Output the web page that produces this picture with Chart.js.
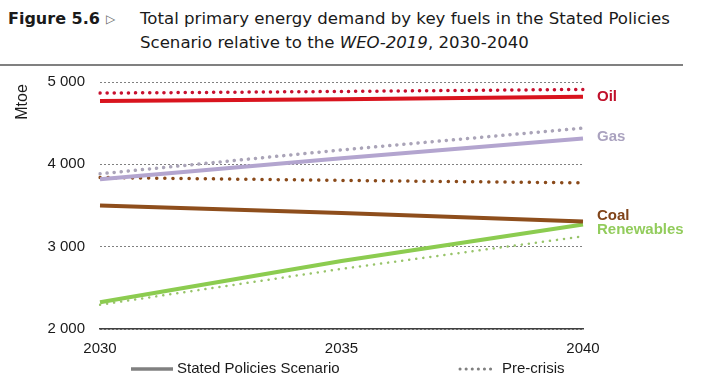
<!DOCTYPE html>
<html>
<head>
<meta charset="utf-8">
<script src="https://cdn.jsdelivr.net/npm/chart.js@4"></script>
<style>
  html, body { margin: 0; padding: 0; background: #fff; }
  #wrap { position: relative; width: 704px; height: 389px; overflow: hidden; }
  #title { position: absolute; left: 0; top: 0; width: 704px; font-family: "DejaVu Sans", sans-serif; color: #1a1a1a; }
  .fig { position: absolute; left: 8px; top: 9px; font-weight: bold; font-size: 16px; }
  .tri { position: absolute; left: 106px; top: 12px; font-size: 12px; color: #666; }
  .t1 { position: absolute; left: 140px; top: 9px; font-size: 16.6px; white-space: nowrap; }
  .t2 { position: absolute; left: 140px; top: 33px; font-size: 16.6px; white-space: nowrap; }
  #rule { position: absolute; left: 0; top: 64px; width: 683px; height: 2px; background: #808080; }
  canvas { position: absolute; left: 0; top: 0; }
</style>
</head>
<body>
<div id="wrap">
  <div id="title">
    <div class="fig">Figure 5.6</div>
    <div class="tri">&#9655;</div>
    <div class="t1">Total primary energy demand by key fuels in the Stated Policies</div>
    <div class="t2">Scenario relative to the <i>WEO-2019</i>, 2030-2040</div>
  </div>
  <div id="rule"></div>
  <canvas id="c" width="704" height="389"></canvas>
</div>
<script>
const years = ['2030', '2035', '2040'];
const yTicks = [2000, 3000, 4000, 5000];

const oilSps = [4770, 4790, 4820];
const oilPre = [4865, 4885, 4910];
const gasSps = [3820, 4075, 4315];
const gasPre = [3885, 4175, 4440];
const coalSps = [3500, 3410, 3305];
const coalPre = [3840, 3805, 3775];
const renewSps = [2325, 2825, 3270];
const renewPre = [2295, 2730, 3125];

const fuelNames = ['Oil', 'Gas', 'Coal', 'Renewables'];
const legendNames = ['Stated Policies Scenario', 'Pre-crisis'];

function solid(data, color) {
  return { data: data, borderColor: color, borderWidth: 4, pointRadius: 0, tension: 0, fill: false };
}
function dotted(data, color, w, gap) {
  return { data: data, borderColor: color, borderWidth: w, borderDash: [0.1, gap], borderCapStyle: 'round',
           pointRadius: 0, tension: 0, fill: false };
}

const endLabels = {
  id: 'endLabels',
  afterDraw(chart) {
    const { ctx, chartArea, scales: { y } } = chart;
    ctx.save();
    ctx.font = 'bold 15px "Liberation Sans", sans-serif';
    ctx.textBaseline = 'middle';
    ctx.textAlign = 'left';
    const x = chartArea.right + 14;
    const pos = [
      [fuelNames[0], '#c0102a', oilSps[2]],
      [fuelNames[1], '#aaa2bf', gasSps[2] + 20],
      [fuelNames[2], '#80441a', coalSps[2] + 70],
      [fuelNames[3], '#92cc5c', coalSps[2] - 100]
    ];
    pos.forEach(p => {
      ctx.fillStyle = p[1];
      ctx.fillText(p[0], x, y.getPixelForValue(p[2]));
    });

    // legend
    const ly = 369;
    ctx.font = '15px "Liberation Sans", sans-serif';
    ctx.fillStyle = '#1a1a1a';
    ctx.strokeStyle = '#808080';
    ctx.lineWidth = 3.5;
    ctx.beginPath();
    ctx.moveTo(131, ly); ctx.lineTo(173, ly);
    ctx.stroke();
    ctx.fillText(legendNames[0], 177, ly);
    ctx.lineWidth = 3;
    ctx.lineCap = 'round';
    ctx.setLineDash([0.1, 6]);
    ctx.beginPath();
    ctx.moveTo(460, ly); ctx.lineTo(496, ly);
    ctx.stroke();
    ctx.setLineDash([]);
    ctx.fillText(legendNames[1], 502, ly);

    // axis title
    ctx.save();
    ctx.translate(23, 102);
    ctx.rotate(-Math.PI / 2);
    ctx.textAlign = 'center';
    ctx.font = '16px "Liberation Sans", sans-serif';
    ctx.fillText('Mtoe', 0, 0);
    ctx.restore();
    ctx.restore();
  }
};

new Chart(document.getElementById('c'), {
  type: 'line',
  data: {
    labels: years,
    datasets: [
      dotted(oilPre, '#c8102e', 3.5, 7),
      solid(oilSps, '#d9141e'),
      dotted(gasPre, '#aaa4b8', 3.5, 7),
      solid(gasSps, '#b3a5cf'),
      dotted(coalPre, '#8a4a1a', 3.5, 8),
      solid(coalSps, '#8e4e1c'),
      dotted(renewPre, '#98c46a', 2.5, 7),
      solid(renewSps, '#8ccc50')
    ]
  },
  options: {
    responsive: false,
    animation: false,
    layout: { padding: { left: 0, right: 121, top: 82, bottom: 0 } },
    plugins: { legend: { display: false }, tooltip: { enabled: false } },
    scales: {
      x: {
        offset: false,
        grid: { display: false },
        border: { display: true, color: '#404040', width: 1.5 },
        ticks: { color: '#1a1a1a', font: { family: '"Liberation Sans", sans-serif', size: 15 }, padding: 3, maxRotation: 0, autoSkip: false },
        afterFit: s => { s.height = 60; }
      },
      y: {
        min: 2000, max: 5000,
        afterBuildTicks: s => { s.ticks = yTicks.map(v => ({ value: v })); },
        grid: { color: '#808080', lineWidth: 1, drawTicks: false },
        border: { display: false, dash: [2, 2] },
        ticks: {
          color: '#1a1a1a', padding: 15,
          font: { family: '"Liberation Sans", sans-serif', size: 15 },
          callback: v => String(v).replace(/\B(?=(\d{3})+(?!\d))/g, ' ')
        },
        afterFit: s => { s.width = 100; }
      }
    }
  },
  plugins: [endLabels]
});
</script>
</body>
</html>
